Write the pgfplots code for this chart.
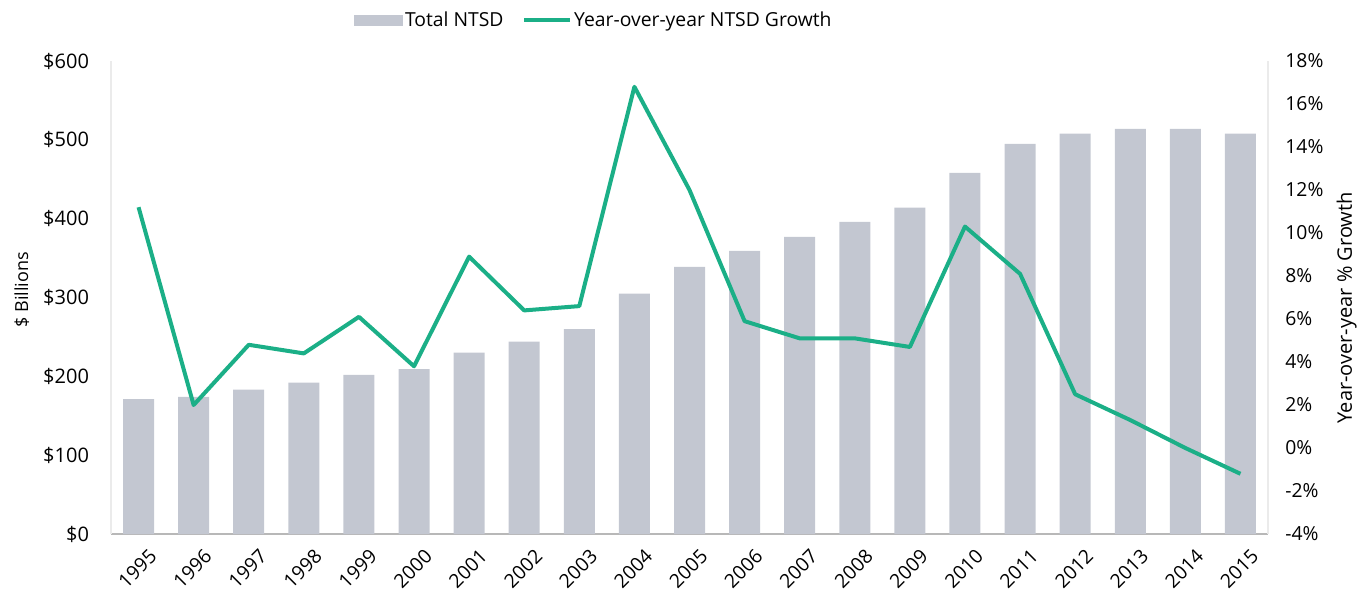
\documentclass[border=0pt]{standalone}
\usepackage{fontspec}
\setmainfont{Open Sans}
\usepackage{pgfplots}
\pgfplotsset{compat=1.18}
\definecolor{bargray}{HTML}{C3C7D1}
\definecolor{growth}{HTML}{1BAF87}
\pgfplotsset{
  common/.style={
    at={(0,0)}, anchor=south west,
    scale only axis, width=867.75pt, height=354.75pt,
    xmin=-0.5, xmax=20.5,
    major tick length=0pt,
    tick label style={font=\fontsize{14.5pt}{17pt}\selectfont},
    /pgf/number format/assume math mode=true,
    axis line style={-},
  },
}
\begin{document}
\begin{tikzpicture}
\path[use as bounding box] (-83.25pt,-45pt) rectangle (936.75pt,400.5pt);
% bars: total NTSD ($ billions)
\begin{axis}[common,
  ymin=0, ymax=600, ytick={0,100,...,600},
  axis y line*=left, axis x line*=bottom,
  x axis line style={draw=black!28, line width=1.2pt},
  y axis line style={draw=black!8, line width=0.8pt},
  yticklabel={\$\pgfmathprintnumber{\tick}},
  yticklabel style={xshift=-13pt, font=\fontsize{15pt}{17pt}\selectfont},
  xtick={0,...,20},
  xticklabels={1995,1996,1997,1998,1999,2000,2001,2002,2003,2004,2005,2006,2007,2008,2009,2010,2011,2012,2013,2014,2015},
  xticklabel style={rotate=45, anchor=north east, xshift=1pt, yshift=-9pt,
    font=\fontsize{14.5pt}{17pt}\selectfont},
  every axis y label/.style={at={(axis description cs:-0.077,0.516)}, anchor=center,
    rotate=90, font=\fontsize{13.5pt}{16pt}\selectfont},
  ylabel={\$ Billions},
]
\addplot[ybar, bar width=23.25pt, fill=bargray, draw=none] coordinates {
  (0,171) (1,174) (2,183) (3,192) (4,202) (5,209) (6,230) (7,244) (8,260) (9,305)
  (10,339) (11,359) (12,377) (13,396) (14,414) (15,458) (16,495) (17,508) (18,514)
  (19,514) (20,508)
};
\end{axis}
% line: year-over-year growth (%)
\begin{axis}[common,
  ymin=-4, ymax=18, ytick={-4,-2,...,18},
  axis y line*=right, axis x line=none,
  y axis line style={draw=black!8, line width=0.8pt},
  yticklabel={\pgfmathprintnumber{\tick}\%},
  yticklabel style={xshift=9.5pt},
  every axis y label/.style={at={(axis description cs:1.068,0.478)}, anchor=center,
    rotate=90, font=\fontsize{15pt}{17pt}\selectfont},
  ylabel={Year-over-year \% Growth},
  legend style={at={(axis description cs:0.4175,1.087)}, anchor=center, draw=none,
    fill=none, font=\fontsize{14.5pt}{17pt}\selectfont,
    /tikz/column 2/.style={column sep=12pt}},
  legend columns=2,
]
\addlegendimage{legend image code/.code={\fill[bargray] (0pt,-3.75pt) rectangle (36pt,3.75pt);}}
\addlegendentry{Total NTSD}
\addplot[growth, line width=3pt, line join=round,
  legend image code/.code={\draw[growth, line width=3pt] (0pt,0pt) -- (34pt,0pt);}]
  coordinates {
  (0,11.2) (1,2.0) (2,4.8) (3,4.4) (4,6.1) (5,3.8) (6,8.9) (7,6.4) (8,6.6) (9,16.8)
  (10,12.0) (11,5.9) (12,5.1) (13,5.1) (14,4.7) (15,10.3) (16,8.1) (17,2.5) (18,1.3)
  (19,0.0) (20,-1.2)
};
\addlegendentry{Year-over-year NTSD Growth}
\end{axis}
\end{tikzpicture}
\end{document}
